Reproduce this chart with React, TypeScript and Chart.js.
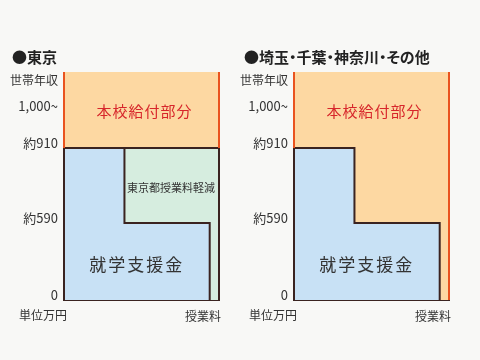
import React, { useEffect, useRef } from "react";
import { Chart, registerables, LinearScale } from "chart.js";

// ---------- data ----------
const incomeTicks = [0, 590, 910, 1000]; // 万円
const incomeTickLabels = ["0", "約590", "約910", "1,000~"];
const incomeMax = 1100;
const incomeAxisTitle = "世帯年収";
const unitLabel = "単位万円";
const tuitionLabel = "授業料";
const tuitionTotal = 100; // whole tuition (share, %)
const supportBandLimits = [590, 910]; // income limits of 就学支援金 bands
const supportShares = [94, 39]; // share of tuition covered in each band
const tokyoReductionLimit = 910;
const tokyoReductionShare = 100;
const panelTitles = ["●東京", "●埼玉・千葉・神奈川・その他"];
const labelKyufu = "本校給付部分";
const labelShienkin = "就学支援金";
const labelTokyo = "東京都授業料軽減";

// visual breakpoints of the schematic (non‑uniform) income axis
const scaleBreaks = [0, 590, 910, 1000, 1100];
const scaleFracs = [0, 0.338, 0.667, 0.829, 1];

// ---------- styles ----------
const FONT = "'Noto Sans CJK JP', 'Noto Sans', sans-serif";
const C = {
  bg: "#f8f8f6",
  orangeFill: "#fdd8a2",
  blueFill: "#c8e1f5",
  greenFill: "#d6eddf",
  orangeLine: "#e9531f",
  dark: "#3a2320",
  text: "#333333",
  red: "#d7262b",
};

function toFrac(v: number) {
  for (let i = 0; i < scaleBreaks.length - 1; i++) {
    const a = scaleBreaks[i], b = scaleBreaks[i + 1];
    if (v <= b || i === scaleBreaks.length - 2) {
      return scaleFracs[i] + ((v - a) / (b - a)) * (scaleFracs[i + 1] - scaleFracs[i]);
    }
  }
  return 1;
}
function fromFrac(f: number) {
  for (let i = 0; i < scaleFracs.length - 1; i++) {
    const a = scaleFracs[i], b = scaleFracs[i + 1];
    if (f <= b || i === scaleFracs.length - 2) {
      return scaleBreaks[i] + ((f - a) / (b - a)) * (scaleBreaks[i + 1] - scaleBreaks[i]);
    }
  }
  return incomeMax;
}

class IncomeScale extends LinearScale {
  static id = "income";
  static defaults = LinearScale.defaults;
  getPixelForValue(value: number) {
    return this.getPixelForDecimal(toFrac(value));
  }
  getValueForPixel(pixel: number) {
    return fromFrac(this.getDecimalForPixel(pixel));
  }
}

Chart.register(...registerables, IncomeScale);

type Panel = {
  title: string;
  tokyo: boolean;
  yWidth: number;
  rightPad: number;
  titleX: number;
};

const panels: Panel[] = [
  { title: panelTitles[0], tokyo: true, yWidth: 64, rightPad: 21, titleX: 12 },
  { title: panelTitles[1], tokyo: false, yWidth: 54, rightPad: 31, titleX: 4 },
];

function buildDatasets(tokyo: boolean) {
  const [lowLimit, midLimit] = supportBandLimits;
  const [lowShare, midShare] = supportShares;
  const shienkin = [
    { x: 0, y: 0 },
    { x: 0, y: midLimit },
    { x: midShare, y: midLimit },
    { x: midShare, y: lowLimit },
    { x: lowShare, y: lowLimit },
    { x: lowShare, y: 0 },
  ];
  const base = { pointRadius: 0, tension: 0, clip: false as any };
  const ds: any[] = [
    {
      ...base,
      label: labelKyufu,
      data: [
        { x: 0, y: incomeMax },
        { x: tuitionTotal, y: incomeMax },
      ],
      borderWidth: 0,
      borderColor: "rgba(0,0,0,0)",
      backgroundColor: C.orangeFill,
      fill: "origin",
      order: 5,
    },
  ];
  if (tokyo) {
    ds.push({
      ...base,
      label: labelTokyo,
      data: [
        { x: 0, y: tokyoReductionLimit },
        { x: tokyoReductionShare, y: tokyoReductionLimit },
        { x: tokyoReductionShare, y: 0 },
      ],
      borderWidth: 2,
      borderColor: C.dark,
      backgroundColor: C.greenFill,
      fill: "origin",
      order: 4,
    });
  }
  ds.push({
    ...base,
    label: labelShienkin,
    data: shienkin,
    borderWidth: 2,
    borderColor: C.dark,
    backgroundColor: C.blueFill,
    fill: "origin",
    order: 3,
  });
  // orange edges of 本校給付部分
  ds.push({
    ...base,
    label: "edgeL",
    data: [
      { x: 0, y: supportBandLimits[1] },
      { x: 0, y: incomeMax },
    ],
    borderWidth: 2,
    borderColor: C.orangeLine,
    fill: false,
    order: 2,
  });
  ds.push({
    ...base,
    label: "edgeR",
    data: [
      { x: tuitionTotal, y: incomeMax },
      { x: tuitionTotal, y: tokyo ? tokyoReductionLimit : 0 },
    ],
    borderWidth: 2,
    borderColor: C.orangeLine,
    fill: false,
    order: 1,
  });
  return ds;
}

function textPlugin(p: Panel) {
  return {
    id: "texts",
    afterDatasetsDraw(chart: any) {
      const { ctx, chartArea, scales } = chart;
      const xs = scales.x, ys = scales.y;
      ctx.save();
      ctx.textBaseline = "middle";
      // axis captions
      ctx.fillStyle = C.text;
      ctx.font = `12px ${FONT}`;
      ctx.textAlign = "right";
      ctx.fillText(incomeAxisTitle, chartArea.left - 6, chartArea.top + 8);
      ctx.textAlign = "center";
      ctx.fillText(unitLabel, chartArea.left - 21, chartArea.bottom + 15);
      // area labels
      ctx.fillStyle = C.red;
      ctx.font = `15px ${FONT}`;
      (ctx as any).letterSpacing = "1px";
      ctx.fillText(labelKyufu, xs.getPixelForValue(52), ys.getPixelForValue(1000));
      ctx.fillStyle = C.text;
      ctx.font = `17px ${FONT}`;
      (ctx as any).letterSpacing = "2px";
      ctx.fillText(labelShienkin, xs.getPixelForValue(47), ys.getPixelForValue(270));
      if (p.tokyo) {
        ctx.font = `11px ${FONT}`;
        (ctx as any).letterSpacing = "0px";
        ctx.fillText(labelTokyo, xs.getPixelForValue(69), ys.getPixelForValue(740));
      }
      ctx.restore();
    },
  };
}

function PanelChart({ p }: { p: Panel }) {
  const ref = useRef<HTMLCanvasElement>(null);
  useEffect(() => {
    if (!ref.current) return;
    const chart = new Chart(ref.current, {
      type: "line",
      data: { datasets: buildDatasets(p.tokyo) },
      options: {
        responsive: false,
        animation: false,
        devicePixelRatio: 1,
        layout: { padding: { left: 0, right: p.rightPad, top: 72, bottom: 0 } },
        plugins: { legend: { display: false }, tooltip: { enabled: false }, title: { display: false } },
        scales: {
          x: {
            type: "linear",
            min: 0,
            max: tuitionTotal,
            afterBuildTicks: (s: any) => {
              s.ticks = [{ value: tuitionTotal }];
            },
            afterFit: (s: any) => {
              s.height = 60;
            },
            ticks: {
              callback: () => tuitionLabel,
              align: "end",
              padding: 9,
              labelOffset: 2,
              autoSkip: false,
              maxRotation: 0,
              color: C.text,
              font: { size: 12, family: FONT },
            },
            grid: { display: false, drawTicks: false },
            border: { display: true, color: C.dark, width: 2 },
          },
          y: {
            type: "income" as any,
            min: 0,
            max: incomeMax,
            afterBuildTicks: (s: any) => {
              s.ticks = incomeTicks.map((v) => ({ value: v }));
            },
            afterFit: (s: any) => {
              s.width = p.yWidth;
            },
            ticks: {
              callback: (_v: any, i: number) => incomeTickLabels[i],
              padding: 6,
              labelOffset: -5,
              autoSkip: false,
              color: C.text,
              font: { size: 13, family: FONT },
            },
            grid: { display: false, drawTicks: false },
            border: { display: false },
          },
        },
      } as any,
      plugins: [textPlugin(p)],
    });
    return () => chart.destroy();
  }, [p]);
  return (
    <div style={{ position: "relative", width: 240, height: 360 }}>
      <canvas ref={ref} width={240} height={360} style={{ display: "block", width: 240, height: 360 }} />
      <div
        style={{
          position: "absolute",
          left: p.titleX,
          top: 48,
          fontFamily: FONT,
          fontSize: 15,
          lineHeight: "18px",
          fontWeight: 700,
          color: "#222",
          fontFeatureSettings: '"palt"',
          whiteSpace: "nowrap",
        }}
      >
        {p.title}
      </div>
    </div>
  );
}

export default function App() {
  return (
    <div
      style={{
        position: "fixed",
        left: 0,
        top: 0,
        width: 480,
        height: 360,
        background: C.bg,
        display: "flex",
      }}
    >
      {panels.map((p, i) => (
        <PanelChart key={i} p={p} />
      ))}
    </div>
  );
}
